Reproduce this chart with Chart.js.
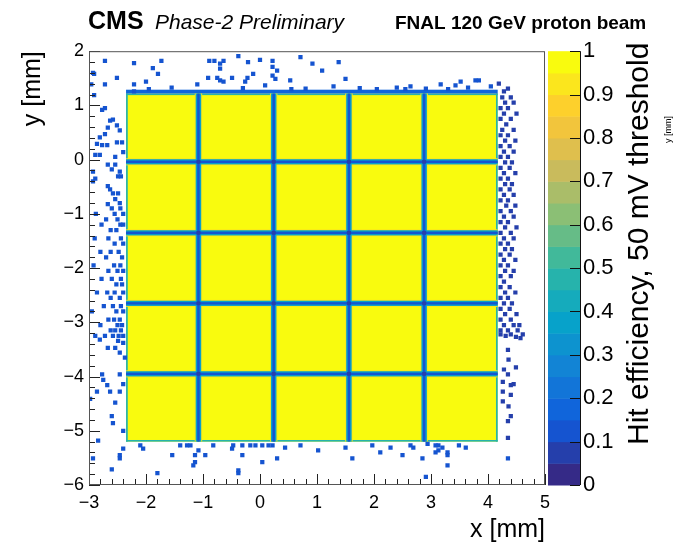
<!DOCTYPE html>
<html lang="en">
<head>
<meta charset="UTF-8">
<title>Hit efficiency map</title>
<script src="https://cdn.jsdelivr.net/npm/chart.js@4.4.1/dist/chart.umd.min.js"></script>
<style>
  html, body { margin: 0; padding: 0; background: #fff; }
  canvas { display: block; }
</style>
</head>
<body>
<canvas id="map" width="677" height="545"></canvas>
<script>
// sensor layout in mm (5x5 pads)
var padEdgesX = [-2.35, -1.08, 0.24, 1.56, 2.88, 4.17];
var padEdgesY = [1.22, -0.04, -1.35, -2.65, -3.95, -5.20];
var padEff = [
    [0.99, 0.99, 0.99, 0.99, 0.99],
    [0.99, 0.99, 0.99, 0.99, 0.99],
    [0.99, 0.99, 0.98, 0.99, 0.99],
    [0.99, 0.99, 0.99, 0.99, 0.98],
    [0.99, 0.99, 0.99, 0.99, 0.99]
];
// efficiency across an inter-pad gap, outside in (half widths in mm)
var gapHalf = [0.065, 0.048, 0.022];
var gapEff = [0.9, 0.38, 0.14];
var crossHalf = 0.035, crossEff = 0.06;
var rimWidth = 0.03, rimEff = 0.45;       // outermost bins of the sensor
var topRowHeight = 0.07, topRowEff = 0.15; // row just above the sensor

// isolated hits outside the sensor [x, y] in mm
var strayTop = [[-2.72,1.82],[-2.21,1.78],[-2.91,1.58],[-2.51,1.51],[-2.96,1.39],[-2.72,1.39],[-2.21,1.39],
    [-2.91,1.19],[-2.21,1.26],[-1.73,1.82],[-1.88,1.69],[-1.79,1.58],[-2.00,1.44],[-1.10,1.39],[-0.89,1.82],
    [-0.80,1.82],[-0.64,1.82],[-0.70,1.77],[-0.70,1.68],[-0.38,1.91],[-0.21,1.80],[0.00,1.84],[0.22,1.82],
    [0.22,1.71],[0.30,1.64],[-0.12,1.58],[-0.22,1.51],[-0.75,1.51],[-0.70,1.46],[-0.64,1.44],[-0.91,1.51],
    [-0.49,1.51],[-0.26,1.44],[0.09,1.37],[0.22,1.55],[0.27,1.49],[0.71,1.89],[0.92,1.77],[1.09,1.64],
    [1.38,1.80],[1.50,1.49],[1.29,1.35],[0.53,1.46],[0.80,1.31],[2.40,1.33],[2.64,1.35],[2.91,1.31],
    [3.17,1.39],[3.43,1.37],[3.52,1.44],[3.78,1.46],[3.84,1.46],[4.05,1.35],[3.65,1.33],[3.30,1.30],
    [2.55,1.30],[-1.55,1.33],[-1.95,1.30],[-0.30,1.32],[0.55,1.30],[1.75,1.32],[2.05,1.30]];
var strayLeft = [[-2.93,1.60],[-2.77,0.92],[-2.72,0.95],[-2.63,0.72],[-2.58,0.74],[-2.51,0.63],[-2.46,0.54],
    [-2.67,0.59],[-2.72,0.47],[-2.81,0.41],[-2.86,0.29],[-2.77,0.27],[-2.68,0.27],[-2.51,0.32],[-2.42,0.32],
    [-2.40,0.14],[-2.54,0.05],[-2.89,0.09],[-2.81,0.09],[-2.67,-0.09],[-2.54,-0.09],[-2.60,-0.18],[-2.46,-0.22],
    [-2.93,-0.22],[-2.89,-0.35],[-2.49,-0.31],[-2.44,-0.31],[-2.67,-0.49],[-2.63,-0.55],[-2.58,-0.62],
    [-2.49,-0.62],[-2.54,-0.73],[-2.46,-0.80],[-2.67,-0.82],[-2.93,-0.40],[-2.60,-0.90],[-2.45,-0.90],
    [-2.88,-1.00],[-2.55,-1.00],[-2.40,-1.00],[-2.70,-1.10],[-2.50,-1.10],[-2.78,-1.20],[-2.45,-1.20],
    [-2.40,-1.20],[-2.62,-1.30],[-2.52,-1.30],[-2.90,-1.45],[-2.66,-1.45],[-2.44,-1.45],[-2.55,-1.55],
    [-2.40,-1.55],[-2.80,-1.70],[-2.62,-1.70],[-2.48,-1.70],[-2.70,-1.80],[-2.42,-1.80],[-2.92,-1.95],
    [-2.56,-1.95],[-2.45,-1.95],[-2.66,-2.05],[-2.50,-2.05],[-2.40,-2.05],[-2.78,-2.20],[-2.60,-2.20],
    [-2.44,-2.20],[-2.52,-2.30],[-2.42,-2.30],[-2.86,-2.45],[-2.68,-2.45],[-2.55,-2.45],[-2.40,-2.45],
    [-2.62,-2.55],[-2.46,-2.55],[-2.74,-2.70],[-2.58,-2.70],[-2.44,-2.70],[-2.95,-2.80],[-2.52,-2.80],
    [-2.40,-2.80],[-2.66,-2.95],[-2.56,-2.95],[-2.46,-2.95],[-2.80,-3.05],[-2.50,-3.05],[-2.42,-3.05],
    [-2.62,-3.15],[-2.54,-3.15],[-2.44,-3.15],[-2.72,-3.25],[-2.48,-3.25],[-2.40,-3.25],[-2.58,-3.25],
    [-2.49,-3.34],[-2.40,-3.38],[-2.54,-3.47],[-2.46,-3.56],[-2.67,-3.47],[-2.81,-3.32],[-2.37,-3.65],
    [-2.89,-3.25],[-2.77,-3.96],[-2.75,-4.06],[-2.68,-4.16],[-2.86,-4.28],[-2.63,-4.28],[-2.46,-4.28],
    [-2.98,-4.41],[-2.54,-4.48],[-2.60,-4.73],[-2.58,-4.86],[-2.40,-5.00],[-2.84,-5.18],[-2.46,-3.96],
    [-2.40,-4.14]];
var strayRight = [[4.25,1.15],[4.40,1.15],[4.30,1.05],[4.45,1.05],[4.22,0.95],[4.35,0.95],[4.28,0.85],
    [4.50,0.85],[4.22,0.75],[4.40,0.75],[4.32,0.65],[4.25,0.55],[4.45,0.55],[4.22,0.45],[4.35,0.45],
    [4.30,0.35],[4.48,0.35],[4.22,0.25],[4.38,0.25],[4.28,0.15],[4.45,0.15],[4.22,0.05],[4.35,0.05],
    [4.30,-0.05],[4.42,-0.05],[4.22,-0.15],[4.38,-0.15],[4.28,-0.25],[4.48,-0.25],[4.22,-0.35],[4.35,-0.35],
    [4.30,-0.45],[4.42,-0.45],[4.22,-0.55],[4.38,-0.55],[4.28,-0.65],[4.45,-0.65],[4.22,-0.75],[4.35,-0.75],
    [4.32,-0.85],[4.48,-0.85],[4.22,-0.95],[4.40,-0.95],[4.28,-1.05],[4.45,-1.05],[4.22,-1.15],[4.35,-1.15],
    [4.30,-1.25],[4.50,-1.25],[4.22,-1.35],[4.40,-1.35],[4.28,-1.45],[4.45,-1.45],[4.22,-1.55],[4.35,-1.55],
    [4.30,-1.65],[4.42,-1.65],[4.22,-1.75],[4.38,-1.75],[4.28,-1.85],[4.48,-1.85],[4.22,-1.95],[4.35,-1.95],
    [4.30,-2.05],[4.45,-2.05],[4.22,-2.15],[4.40,-2.15],[4.28,-2.25],[4.22,-2.35],[4.38,-2.35],[4.30,-2.45],
    [4.48,-2.45],[4.22,-2.55],[4.35,-2.55],[4.28,-2.65],[4.42,-2.65],[4.22,-2.75],[4.38,-2.75],[4.30,-2.85],
    [4.50,-2.85],[4.22,-2.95],[4.40,-2.95],[4.28,-3.05],[4.45,-3.05],[4.55,-3.05],[4.22,-3.15],[4.35,-3.15],
    [4.52,-3.15],[4.22,-3.22],[4.31,-3.25],[4.40,-3.22],[4.49,-3.27],[4.57,-3.29],[4.61,-3.22],[4.35,-3.51],
    [4.36,-3.69],[4.35,-3.96],[4.28,-3.87],[4.49,-3.83],[4.26,-4.10],[4.40,-4.16],[4.45,-4.14],[4.26,-4.28],
    [4.40,-4.34],[4.26,-4.46],[4.36,-4.55],[4.40,-4.73],[4.35,-4.82],[4.35,-5.13],[4.19,1.40],[4.35,1.31],
    [4.28,1.26]];
var strayBottom = [[-2.40,-5.33],[-2.10,-5.27],[-2.05,-5.33],[-2.46,-5.45],[-2.46,-5.51],[-2.93,-5.51],
    [-2.60,-5.71],[-1.80,-5.78],[-1.54,-5.45],[-1.40,-5.27],[-1.28,-5.27],[-1.22,-5.27],[-1.14,-5.45],
    [-1.17,-5.64],[-1.14,-5.58],[-0.96,-5.45],[-1.08,-5.36],[-0.82,-5.27],[-0.49,-5.33],[-0.47,-5.27],
    [-0.31,-5.27],[-0.17,-5.27],[-0.08,-5.27],[0.04,-5.27],[0.15,-5.27],[0.22,-5.27],[-0.31,-5.45],
    [0.04,-5.58],[-0.38,-5.73],[-0.38,-5.78],[0.30,-5.51],[0.44,-5.31],[0.71,-5.27],[1.02,-5.36],
    [1.50,-5.31],[1.62,-5.51],[1.97,-5.27],[2.11,-5.40],[2.29,-5.31],[2.64,-5.27],[2.69,-5.31],
    [2.50,-5.45],[2.85,-5.51],[2.91,-5.85],[2.94,-5.24],[3.08,-5.27],[3.13,-5.27],[3.20,-5.31],
    [3.08,-5.40],[3.13,-5.36],[3.29,-5.40],[3.29,-5.45],[3.29,-5.64],[3.49,-5.27],[3.61,-5.31],[4.35,-5.51]];
var strayEffOuter = 0.12, strayEffRight = 0.07;

var xTicks = [-3, -2, -1, 0, 1, 2, 3, 4, 5];
var yTicks = [-6, -5, -4, -3, -2, -1, 0, 1, 2];
var zTicks = [0, 0.1, 0.2, 0.3, 0.4, 0.5, 0.6, 0.7, 0.8, 0.9, 1];

// ROOT "bird" palette, 20 contour bands
var birdStops = [0, 0.125, 0.25, 0.375, 0.5, 0.625, 0.75, 0.875, 1];
var birdR = [0.2082, 0.0592, 0.0780, 0.0232, 0.1802, 0.5301, 0.8186, 0.9956, 0.9764];
var birdG = [0.1664, 0.3599, 0.5041, 0.6419, 0.7178, 0.7492, 0.7328, 0.7862, 0.9832];
var birdB = [0.5293, 0.8684, 0.8385, 0.7914, 0.6425, 0.4662, 0.3499, 0.1968, 0.0539];
var nBands = 20;

function bird(t) {
    var k = 0;
    while (k < birdStops.length - 2 && t > birdStops[k + 1]) k++;
    var f = (t - birdStops[k]) / (birdStops[k + 1] - birdStops[k]);
    var c = function (a) { return Math.round(255 * (a[k] + f * (a[k + 1] - a[k]))); };
    return 'rgb(' + c(birdR) + ',' + c(birdG) + ',' + c(birdB) + ')';
}
function bandColor(i) { return bird(i / (nBands - 1)); }
function effColor(eff) { return bandColor(Math.min(nBands - 1, Math.floor(eff * nBands))); }

Chart.defaults.font.family = '"Liberation Sans", Arial, Helvetica, sans-serif';
Chart.defaults.color = '#000';

function minusSign(v) { return String(v).replace('-', '\u2212'); }

function fillBox(ctx, xs, ys, x0, x1, y0, y1, eff) {
    var l = xs.getPixelForValue(Math.min(x0, x1)), r = xs.getPixelForValue(Math.max(x0, x1));
    var t = ys.getPixelForValue(Math.max(y0, y1)), b = ys.getPixelForValue(Math.min(y0, y1));
    ctx.fillStyle = effColor(eff);
    ctx.fillRect(l, t, r - l, b - t);
}

// pads, gaps and sensor border, under the stray hits
var sensorMap = {
    id: 'sensorMap',
    beforeDatasetsDraw: function (chart) {
        var ctx = chart.ctx, a = chart.chartArea, xs = chart.scales.x, ys = chart.scales.y;
        var x0 = padEdgesX[0], x1 = padEdgesX[5], y0 = padEdgesY[0], y1 = padEdgesY[5];
        ctx.save();
        ctx.beginPath();
        ctx.rect(a.left, a.top, a.right - a.left, a.bottom - a.top);
        ctx.clip();
        for (var j = 0; j < 5; j++)
            for (var i = 0; i < 5; i++)
                fillBox(ctx, xs, ys, padEdgesX[i], padEdgesX[i + 1], padEdgesY[j], padEdgesY[j + 1], padEff[j][i]);
        // border bins
        fillBox(ctx, xs, ys, x0, x0 + rimWidth, y0, y1, rimEff);
        fillBox(ctx, xs, ys, x1 - rimWidth, x1, y0, y1, rimEff);
        fillBox(ctx, xs, ys, x0, x1, y1, y1 + rimWidth, rimEff);
        fillBox(ctx, xs, ys, x0, x1, y0 - rimWidth, y0, rimEff);
        fillBox(ctx, xs, ys, x0, x1, y0, y0 + topRowHeight, topRowEff);
        // inter-pad gaps
        for (var g = 0; g < gapHalf.length; g++) {
            for (var k = 1; k < 5; k++) {
                fillBox(ctx, xs, ys, padEdgesX[k] - gapHalf[g], padEdgesX[k] + gapHalf[g], y0, y1, gapEff[g]);
                fillBox(ctx, xs, ys, x0, x1, padEdgesY[k] - gapHalf[g], padEdgesY[k] + gapHalf[g], gapEff[g]);
            }
        }
        for (var p = 1; p < 5; p++)
            for (var q = 1; q < 5; q++)
                fillBox(ctx, xs, ys, padEdgesX[p] - crossHalf, padEdgesX[p] + crossHalf,
                    padEdgesY[q] - crossHalf, padEdgesY[q] + crossHalf, crossEff);
        ctx.restore();
    }
};

// frame, inward ticks, palette and texts
var decorations = {
    id: 'decorations',
    afterDraw: function (chart) {
        var ctx = chart.ctx, a = chart.chartArea, xs = chart.scales.x, ys = chart.scales.y, zs = chart.scales.z;
        ctx.save();
        ctx.strokeStyle = '#222';
        ctx.lineWidth = 1;
        ctx.beginPath();
        for (var v = -3; v <= 5.0001; v += 0.2) {
            var px = Math.round(xs.getPixelForValue(v)) + 0.5;
            var major = Math.abs(v - Math.round(v)) < 1e-6;
            ctx.moveTo(px, a.bottom);
            ctx.lineTo(px, a.bottom - (major ? 11 : 6));
        }
        for (var w = -6; w <= 2.0001; w += 0.2) {
            var py = Math.round(ys.getPixelForValue(w)) + 0.5;
            var maj = Math.abs(w - Math.round(w)) < 1e-6;
            ctx.moveTo(a.left, py);
            ctx.lineTo(a.left + (maj ? 11 : 6), py);
        }
        ctx.stroke();
        ctx.strokeStyle = '#555';
        ctx.strokeRect(a.left + 0.5, a.top + 0.5, a.right - a.left - 1, a.bottom - a.top - 1);

        // palette
        var cl = a.right + 3, cr = a.right + 35;
        for (var i = 0; i < nBands; i++) {
            var yb = zs.getPixelForValue(i / nBands), yt = zs.getPixelForValue((i + 1) / nBands);
            ctx.fillStyle = bandColor(i);
            ctx.fillRect(cl, yt, cr - cl, yb - yt + 0.5);
        }
        ctx.strokeStyle = '#111';
        ctx.beginPath();
        ctx.moveTo(cr + 0.5, zs.top);
        ctx.lineTo(cr + 0.5, zs.bottom);
        zTicks.forEach(function (t) {
            var y = Math.round(zs.getPixelForValue(t)) + 0.5;
            ctx.moveTo(cr, y);
            ctx.lineTo(cr - 10, y);
        });
        ctx.stroke();

        ctx.fillStyle = '#000';
        ctx.textBaseline = 'alphabetic';
        ctx.textAlign = 'left';
        ctx.font = 'bold 25px "Liberation Sans", Arial, sans-serif';
        ctx.fillText('CMS', 88, 29);
        ctx.font = 'italic 21px "Liberation Sans", Arial, sans-serif';
        ctx.fillText('Phase-2 Preliminary', 155, 29);
        ctx.font = 'bold 19px "Liberation Sans", Arial, sans-serif';
        ctx.fillText('FNAL 120 GeV proton beam', 395, 29);

        ctx.save();
        ctx.translate(648, 445);
        ctx.rotate(-Math.PI / 2);
        ctx.font = '30px "Liberation Sans", Arial, sans-serif';
        ctx.fillText('Hit efficiency, 50 mV threshold', 0, 0);
        ctx.restore();

        ctx.save();
        ctx.translate(671, 143);
        ctx.rotate(-Math.PI / 2);
        ctx.font = '9px "Liberation Sans", Arial, sans-serif';
        ctx.fillText('y [mm]', 0, 0);
        ctx.restore();
        ctx.restore();
    }
};

function hitSet(list, eff) {
    return {
        data: list.map(function (p) { return { x: p[0], y: p[1] }; }),
        xAxisID: 'x', yAxisID: 'y',
        pointStyle: 'rect',
        pointRadius: 3,
        pointBorderWidth: 0,
        backgroundColor: effColor(eff),
        borderColor: effColor(eff)
    };
}

var ctx = document.getElementById('map').getContext('2d');
var chart = new Chart(ctx, {
    type: 'scatter',
    data: {
        datasets: [
            hitSet(strayTop, strayEffOuter),
            hitSet(strayLeft, strayEffOuter),
            hitSet(strayBottom, strayEffOuter),
            hitSet(strayRight, strayEffRight)
        ]
    },
    options: {
        responsive: false,
        animation: false,
        events: [],
        layout: { padding: { top: 42, left: 0, right: 0, bottom: 0 } },
        plugins: { legend: { display: false }, tooltip: { enabled: false } },
        scales: {
            x: {
                type: 'linear', min: -3, max: 5,
                afterBuildTicks: function (s) { s.ticks = xTicks.map(function (v) { return { value: v }; }); },
                ticks: { padding: 7, maxRotation: 0, autoSkip: false, font: { size: 18 }, callback: minusSign },
                grid: { display: false, drawTicks: false },
                border: { display: false },
                title: { display: true, text: 'x [mm]', align: 'end', font: { size: 25 }, padding: { top: 0, bottom: 0 } },
                afterFit: function (s) { s.height = 60; }
            },
            y: {
                type: 'linear', position: 'left', min: -6, max: 2,
                afterBuildTicks: function (s) { s.ticks = yTicks.map(function (v) { return { value: v }; }); },
                ticks: { padding: 5, autoSkip: false, font: { size: 18 }, callback: minusSign },
                grid: { display: false, drawTicks: false },
                border: { display: false },
                title: { display: true, text: 'y [mm]', align: 'end', font: { size: 25 }, padding: { top: 18, bottom: 0 } },
                afterFit: function (s) { s.width = 89; }
            },
            z: {
                type: 'linear', position: 'right', min: 0, max: 1,
                afterBuildTicks: function (s) { s.ticks = zTicks.map(function (v) { return { value: v }; }); },
                ticks: { padding: 38, autoSkip: false, font: { size: 22 },
                    callback: function (v) { return String(Math.round(v * 10) / 10); } },
                grid: { display: false, drawTicks: false },
                border: { display: false },
                afterFit: function (s) { s.width = 132; }
            }
        }
    },
    plugins: [sensorMap, decorations]
});
</script>
</body>
</html>
